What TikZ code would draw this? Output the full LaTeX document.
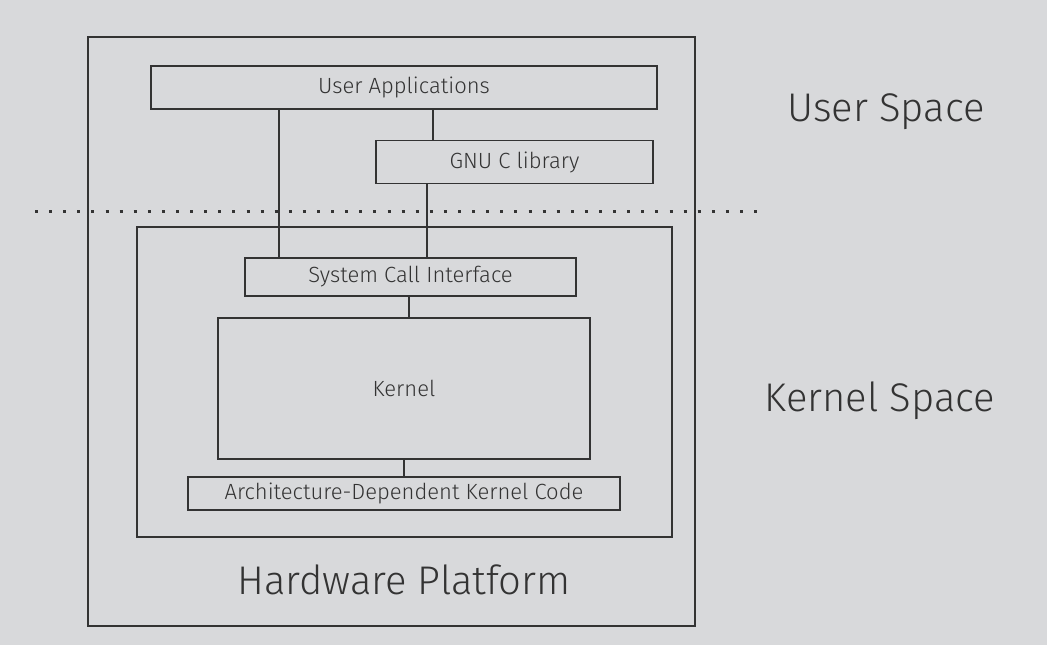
\documentclass[tikz,border=0pt]{standalone}
\usepackage{fontspec}
\setmainfont{Fira Sans Light}
\definecolor{bg}{HTML}{D8D9DB}
\definecolor{ink}{HTML}{333333}
\tikzset{
  box/.style={draw=ink, line width=1.6pt, rectangle, inner sep=0pt, text=ink,
    font=\fontsize{22}{24}\selectfont},
  conn/.style={draw=ink, line width=1.6pt},
  big/.style={text=ink, inner sep=0pt, font=\fontsize{40}{44}\selectfont},
  dotline/.style={draw=ink, line width=3pt, dash pattern=on 3pt off 11.1pt}
}
\begin{document}
\begin{tikzpicture}[x=1pt,y=-1pt]
\fill[bg] (0,0) rectangle (1047,645);
\useasboundingbox (0,0) rectangle (1047,645);
% dotted separator
\coordinate (dl) at (35,211);
\coordinate (dr) at (765,211);
\draw[dotline] (dl) -- (dr);
% boxes
\node[box, minimum width=607pt, minimum height=589pt] (outer) at (391.5,331.5) {};
\node[box, minimum width=506pt, minimum height=43pt] (ua) at (404,87.5) {User Applications};
\node[box, minimum width=277pt, minimum height=43pt] (glibc) at (514.5,162) {GNU C library};
\node[box, minimum width=535pt, minimum height=310pt] (ks) at (404.5,382) {};
\node[box, minimum width=331pt, minimum height=38pt] (sci) at (410.5,277) {System Call Interface};
\node[box, minimum width=372pt, minimum height=141pt] (kern) at (404,388.5) {Kernel};
\node[box, minimum width=432pt, minimum height=33pt] (arch) at (404,493.5) {Architecture-Dependent Kernel Code};
% labels
\node[big] (hw) at (404,580) {Hardware Platform};
\node[big] (us) at (886,112) {User Space};
\node[big] (kspace) at (880,401) {Kernel Space};
% connector x positions
\coordinate (c1) at (279,0);
\coordinate (c2) at (433,0);
\coordinate (c3) at (427,0);
\coordinate (c4) at (409,0);
\coordinate (c5) at (404,0);
\draw[conn] (ua.south -| c1) -- (sci.north -| c1);
\draw[conn] (ua.south -| c2) -- (glibc.north -| c2);
\draw[conn] (glibc.south -| c3) -- (sci.north -| c3);
\draw[conn] (sci.south -| c4) -- (kern.north -| c4);
\draw[conn] (kern.south -| c5) -- (arch.north -| c5);
\end{tikzpicture}
\end{document}
